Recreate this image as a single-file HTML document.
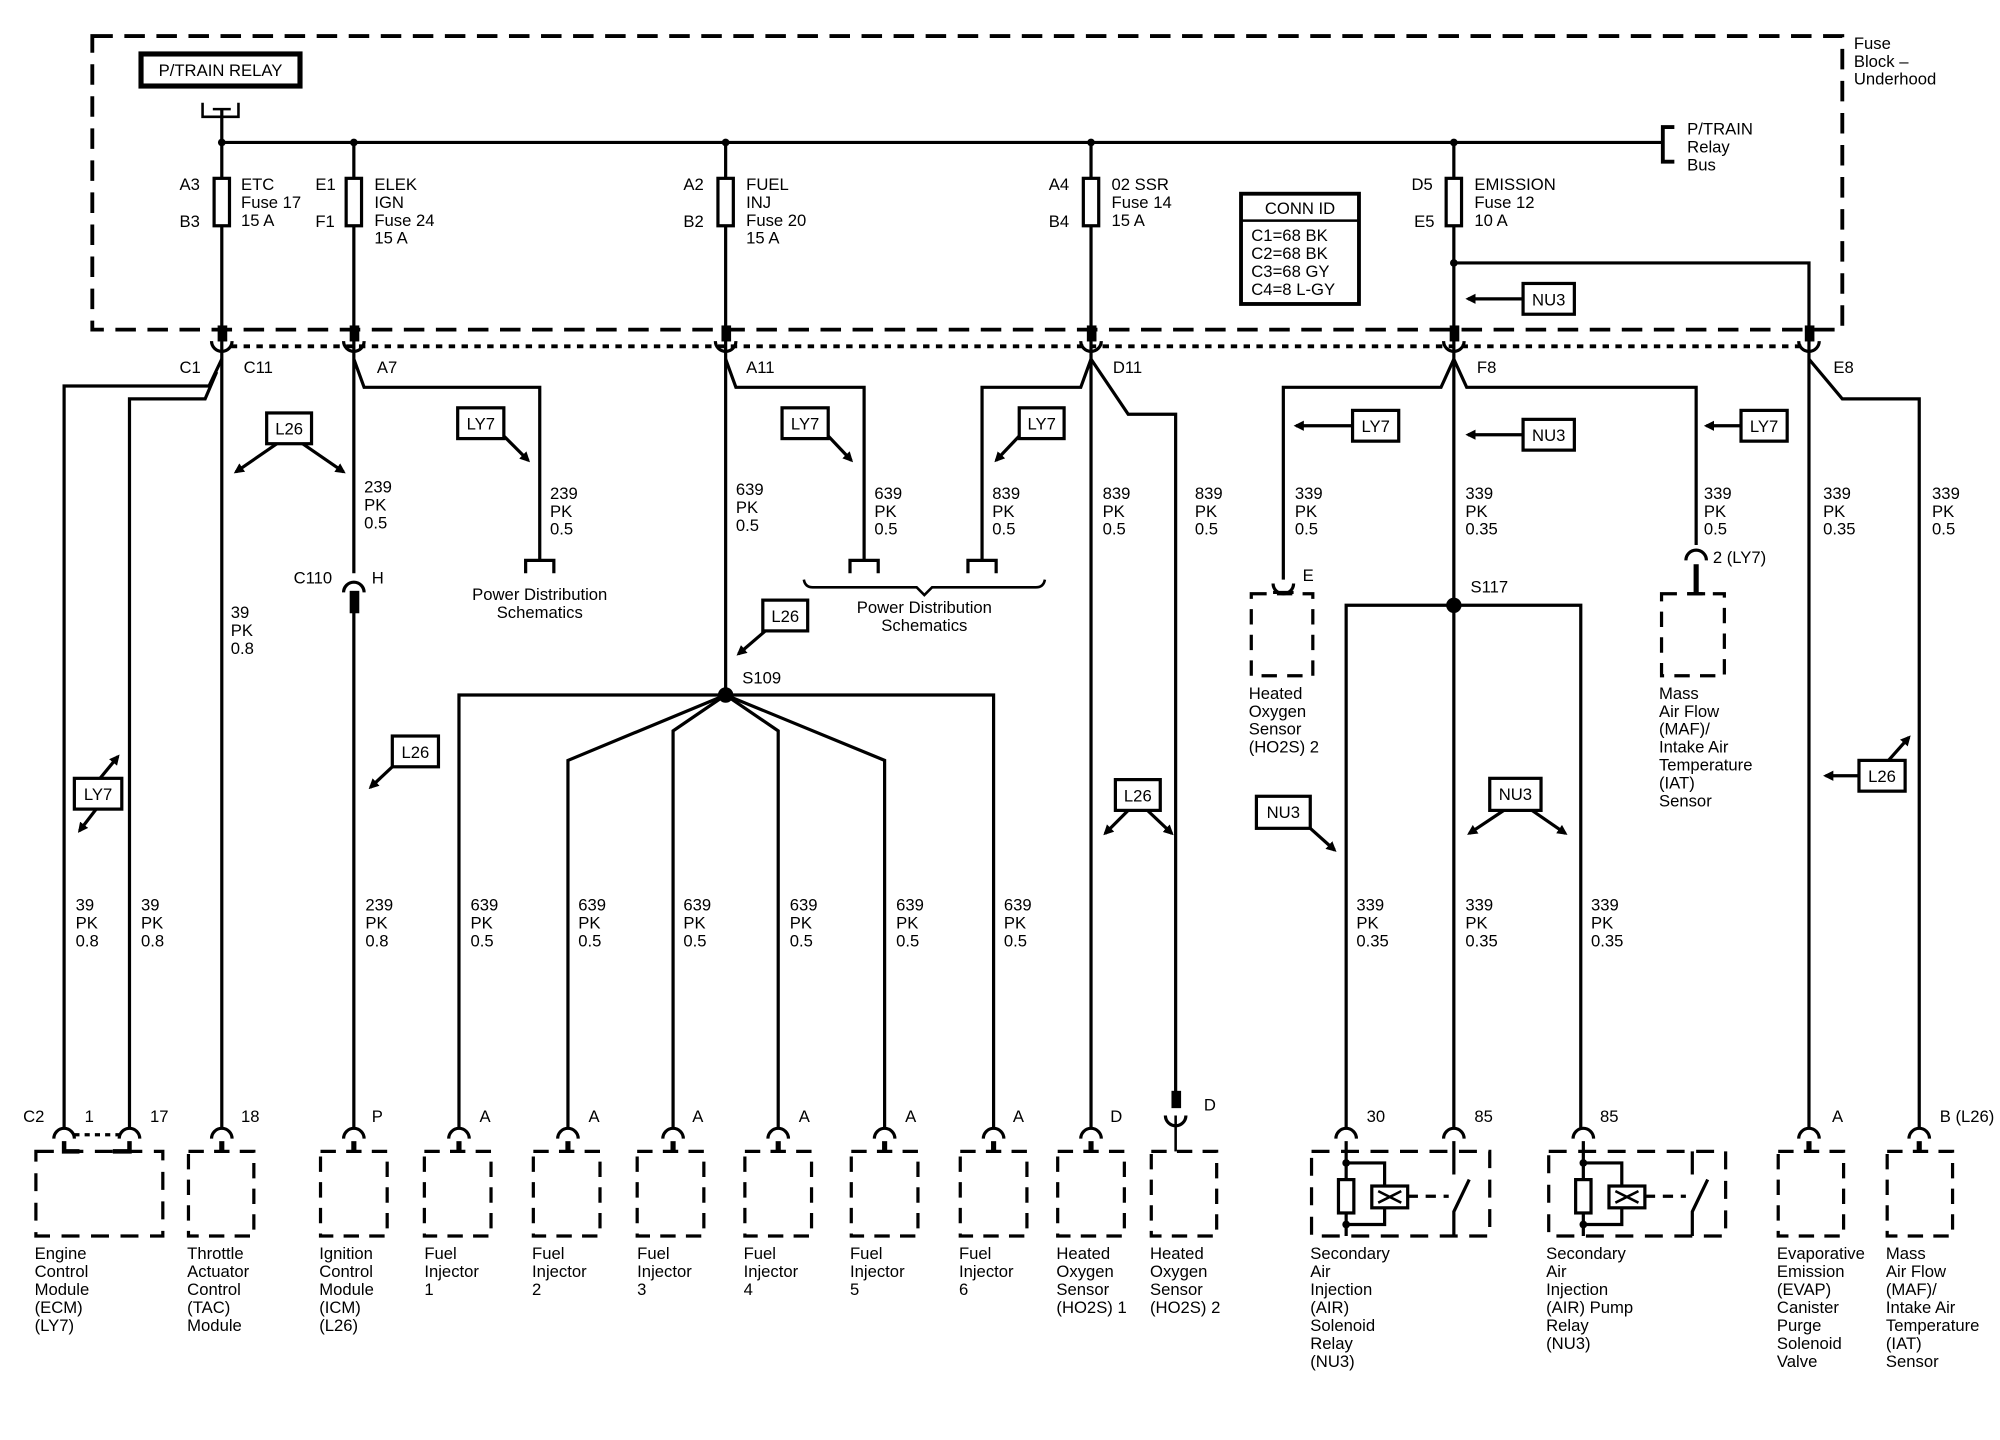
<!DOCTYPE html>
<html><head><meta charset="utf-8"><style>
html,body{margin:0;padding:0;background:#fff;}
svg{display:block}
text{font-family:"Liberation Sans",sans-serif;font-size:13px;fill:#000;}
.t{font-size:13px}
</style></head><body>
<svg width="2000" height="1440" viewBox="0 0 1560 1123" xmlns="http://www.w3.org/2000/svg">
<defs>
<marker id="ah" markerWidth="8" markerHeight="8" refX="6" refY="4" orient="auto" markerUnits="userSpaceOnUse" viewBox="0 0 8 8"><path d="M0,0 L8,4 L0,8 Z" fill="#000"/></marker>
</defs>
<g fill="none" stroke="#000" stroke-width="2.5">
<!-- fuse block dashed -->
<rect x="72" y="28" width="1365" height="229" stroke-width="3" stroke-dasharray="16 9"/>
<!-- dotted connector line -->
<line x1="180" y1="270" x2="1405" y2="270" stroke-width="3" stroke-dasharray="5 5"/>
<!-- relay box -->
<rect x="110" y="42" width="124" height="25" stroke-width="4"/>
<path d="M158 80 V91 H186 V80" stroke-width="2"/>
<line x1="166" y1="85" x2="180" y2="85" stroke-width="2"/>
<line x1="173" y1="85" x2="173" y2="111"/>
<!-- bus -->
<line x1="173" y1="111" x2="1296" y2="111"/>
<path d="M1306 99 H1297 V126 H1306" stroke-width="3"/>
<!-- fuses verticals -->
<line x1="173" y1="111" x2="173" y2="880"/>
<line x1="276" y1="111" x2="276" y2="447"/>
<line x1="566" y1="111" x2="566" y2="542"/>
<line x1="851" y1="111" x2="851" y2="880"/>
<line x1="1134" y1="111" x2="1134" y2="880"/>
<rect x="167" y="139" width="12" height="37" fill="#fff"/>
<rect x="270" y="139" width="12" height="37" fill="#fff"/>
<rect x="560" y="139" width="12" height="37" fill="#fff"/>
<rect x="845" y="139" width="12" height="37" fill="#fff"/>
<rect x="1128" y="139" width="12" height="37" fill="#fff"/>
<!-- emission branch -->
<path d="M1134 205 H1411 V880"/>
<!-- conn id -->
<rect x="968" y="151" width="92" height="86" stroke-width="3"/>
<line x1="968" y1="172" x2="1060" y2="172" stroke-width="2"/>
<!-- C1 branches -->
<path d="M50 880 V301 H163 L173 280"/>
<path d="M101 880 V311 H160 L169 290"/>
<!-- A7 branch -->
<path d="M276 280 L284 302 H421 V437"/>
<path d="M410 447 V437 H432 V447" stroke-width="2.5"/>
<!-- C110 -->
<line x1="276" y1="462" x2="276" y2="880"/>
<rect x="274" y="462" width="5" height="15" fill="#000"/>
<!-- A11 branches -->
<path d="M566 280 L574 302 H674 V437"/>
<path d="M663 447 V437 H685 V447"/>
<path d="M851 280 L843 302 H766 V437"/>
<path d="M755 447 V437 H777 V447"/>
<path d="M627 452 Q628 458 634 458 H715 L721 464 L727 458 H808 Q814 458 815 452" stroke-width="2"/>
<!-- D11 right -->
<path d="M851 280 L880 323 H917 V855"/>
<line x1="917" y1="870" x2="917" y2="898" stroke-width="2"/>
<rect x="915" y="852" width="5" height="11" fill="#000"/>
<!-- F8 -->
<path d="M1134 280 L1124 302 H1001 V452"/>
<path d="M1134 280 L1144 302 H1323 V425"/>
<!-- S117 -->
<path d="M1050 880 V472 H1233 V880"/>
<!-- E8 right -->
<path d="M1411 280 L1437 311 H1497 V880"/>
<!-- S109 -->
<path d="M358 880 V542 H775 V880"/>
<path d="M566 542 L443 593 V880"/>
<path d="M566 542 L525 570 V880"/>
<path d="M566 542 L607 570 V880"/>
<path d="M566 542 L690 593 V880"/>
</g>
<!-- dots -->
<g fill="#000">
<circle cx="173" cy="111" r="3"/><circle cx="276" cy="111" r="3"/><circle cx="566" cy="111" r="3"/><circle cx="851" cy="111" r="3"/><circle cx="1134" cy="111" r="3"/><circle cx="1134" cy="205" r="3"/>
<circle cx="566" cy="542" r="6"/><circle cx="1134" cy="472" r="6"/>
</g>
<!-- top connectors -->
<g fill="none" stroke="#000" stroke-width="2.5">
<rect x="171" y="255" width="5" height="10" fill="#000"/>
<rect x="274" y="255" width="5" height="10" fill="#000"/>
<rect x="564" y="255" width="5" height="10" fill="#000"/>
<rect x="849" y="255" width="5" height="10" fill="#000"/>
<rect x="1132" y="255" width="5" height="10" fill="#000"/>
<rect x="1409" y="255" width="5" height="10" fill="#000"/>
<path d="M165 266 A8 8 0 0 0 181 266"/><path d="M268 266 A8 8 0 0 0 284 266"/><path d="M558 266 A8 8 0 0 0 574 266"/><path d="M843 266 A8 8 0 0 0 859 266"/><path d="M1126 266 A8 8 0 0 0 1142 266"/><path d="M1403 266 A8 8 0 0 0 1419 266"/>
<!-- C110 -->
<path d="M268 462 A8 8 0 0 1 284 462"/>
<!-- E connector HO2S2 upper -->
<path d="M993 455 A8 8 0 0 0 1009 455"/>
<line x1="993" y1="462" x2="1009" y2="462"/>
<!-- MAF upper -->
<path d="M1315 437 A8 8 0 0 1 1331 437"/>
<line x1="1323" y1="440" x2="1323" y2="463" stroke-width="4"/>
<line x1="1316" y1="463" x2="1330" y2="463"/>
<rect x="976" y="463" width="48" height="64" stroke-dasharray="12 8"/>
<rect x="1296" y="463" width="49" height="64" stroke-dasharray="12 8"/>
<!-- D connector (HO2S2 lower) -->
<path d="M909 870 A8 8 0 0 0 925 870"/>
</g>
<!-- bottom connectors & boxes -->
<g fill="none" stroke="#000" stroke-width="2.5">
<g id="bc">
<path d="M42 888 A8 8 0 0 1 58 888"/><path d="M93 888 A8 8 0 0 1 109 888"/>
<line x1="58" y1="885" x2="93" y2="885" stroke-dasharray="4 4"/>
<path d="M50 890 V898 H62 M101 890 V898 H88" stroke-width="3.5"/>
<rect x="28" y="898" width="99" height="66" stroke-dasharray="14 9"/>
</g>
<path d="M165 888 A8 8 0 0 1 181 888"/><line x1="173" y1="890" x2="173" y2="898" stroke-width="4"/><rect x="147" y="898" width="51" height="66" stroke-dasharray="12 8"/>
<path d="M268 888 A8 8 0 0 1 284 888"/><line x1="276" y1="890" x2="276" y2="898" stroke-width="4"/><rect x="250" y="898" width="52" height="66" stroke-dasharray="12 8"/>
<path d="M350 888 A8 8 0 0 1 366 888"/><line x1="358" y1="890" x2="358" y2="898" stroke-width="4"/><rect x="331" y="898" width="52" height="66" stroke-dasharray="12 8"/>
<path d="M435 888 A8 8 0 0 1 451 888"/><line x1="443" y1="890" x2="443" y2="898" stroke-width="4"/><rect x="416" y="898" width="52" height="66" stroke-dasharray="12 8"/>
<path d="M517 888 A8 8 0 0 1 533 888"/><line x1="525" y1="890" x2="525" y2="898" stroke-width="4"/><rect x="497" y="898" width="52" height="66" stroke-dasharray="12 8"/>
<path d="M599 888 A8 8 0 0 1 615 888"/><line x1="607" y1="890" x2="607" y2="898" stroke-width="4"/><rect x="581" y="898" width="52" height="66" stroke-dasharray="12 8"/>
<path d="M682 888 A8 8 0 0 1 698 888"/><line x1="690" y1="890" x2="690" y2="898" stroke-width="4"/><rect x="664" y="898" width="52" height="66" stroke-dasharray="12 8"/>
<path d="M767 888 A8 8 0 0 1 783 888"/><line x1="775" y1="890" x2="775" y2="898" stroke-width="4"/><rect x="749" y="898" width="52" height="66" stroke-dasharray="12 8"/>
<path d="M843 888 A8 8 0 0 1 859 888"/><line x1="851" y1="890" x2="851" y2="898" stroke-width="4"/><rect x="825" y="898" width="52" height="66" stroke-dasharray="12 8"/>
<rect x="898" y="898" width="51" height="66" stroke-dasharray="12 8"/>
<path d="M1042 888 A8 8 0 0 1 1058 888"/><path d="M1126 888 A8 8 0 0 1 1142 888"/><path d="M1227 888 A8 8 0 0 1 1243 888"/>
<path d="M1403 888 A8 8 0 0 1 1419 888"/><line x1="1411" y1="890" x2="1411" y2="898" stroke-width="4"/><rect x="1387" y="898" width="51" height="66" stroke-dasharray="12 8"/>
<path d="M1489 888 A8 8 0 0 1 1505 888"/><line x1="1497" y1="890" x2="1497" y2="898" stroke-width="4"/><rect x="1472" y="898" width="51" height="66" stroke-dasharray="12 8"/>
<!-- relay 1 -->
<rect x="1023" y="898" width="139" height="66" stroke-dasharray="14 9"/>
<path d="M1050 890 V964" /><rect x="1044" y="920" width="12" height="26" fill="#fff"/>
<path d="M1050 907 H1080 V925 M1080 942 V955 H1050"/>
<rect x="1070" y="925" width="28" height="17" fill="#fff"/>
<path d="M1075 929 L1093 938 M1075 938 L1093 929" stroke-width="2"/>
<line x1="1098" y1="933" x2="1130" y2="933" stroke-dasharray="8 6"/>
<path d="M1134 890 V916 M1134 964 V945 L1146 920"/>
<!-- relay 2 -->
<rect x="1208" y="898" width="138" height="66" stroke-dasharray="14 9"/>
<path d="M1235 890 V964" /><rect x="1229" y="920" width="12" height="26" fill="#fff"/>
<path d="M1235 907 H1265 V925 M1265 942 V955 H1235"/>
<rect x="1255" y="925" width="28" height="17" fill="#fff"/>
<path d="M1260 929 L1278 938 M1260 938 L1278 929" stroke-width="2"/>
<line x1="1283" y1="933" x2="1315" y2="933" stroke-dasharray="8 6"/>
<path d="M1320 898 V916 M1320 964 V945 L1332 920"/>
</g>
<g fill="#000"><circle cx="1050" cy="907" r="3"/><circle cx="1050" cy="955" r="3"/><circle cx="1235" cy="907" r="3"/><circle cx="1235" cy="955" r="3"/></g>
<!-- option boxes -->
<g fill="#fff" stroke="#000" stroke-width="2.5">
<rect x="208" y="322" width="35" height="24"/>
<rect x="357" y="318" width="36" height="24"/>
<rect x="610" y="318" width="36" height="24"/>
<rect x="795" y="318" width="35" height="24"/>
<rect x="595" y="468" width="35" height="24"/>
<rect x="306" y="574" width="36" height="24"/>
<rect x="58" y="607" width="37" height="24"/>
<rect x="870" y="608" width="35" height="24"/>
<rect x="1055" y="320" width="36" height="24"/>
<rect x="1188" y="327" width="40" height="24"/>
<rect x="1358" y="320" width="36" height="24"/>
<rect x="1188" y="221" width="40" height="24"/>
<rect x="980" y="621" width="42" height="25"/>
<rect x="1162" y="607" width="40" height="25"/>
<rect x="1450" y="593" width="36" height="24"/>
</g>
<g stroke="#000" stroke-width="2.5" marker-end="url(#ah)" fill="none">
<line x1="216" y1="346" x2="184" y2="368"/><line x1="236" y1="346" x2="268" y2="368"/>
<line x1="393" y1="340" x2="412" y2="359"/>
<line x1="646" y1="340" x2="664" y2="359"/>
<line x1="795" y1="340" x2="777" y2="359"/>
<line x1="597" y1="492" x2="576" y2="510"/>
<line x1="306" y1="598" x2="289" y2="614"/>
<line x1="78" y1="607" x2="92" y2="590"/><line x1="75" y1="631" x2="62" y2="648"/>
<line x1="880" y1="632" x2="862" y2="650"/><line x1="895" y1="632" x2="914" y2="650"/>
<line x1="1055" y1="332" x2="1011" y2="332"/>
<line x1="1188" y1="339" x2="1145" y2="339"/>
<line x1="1358" y1="332" x2="1331" y2="332"/>
<line x1="1188" y1="233" x2="1145" y2="233"/>
<line x1="1022" y1="646" x2="1041" y2="663"/>
<line x1="1173" y1="632" x2="1146" y2="650"/><line x1="1195" y1="632" x2="1221" y2="650"/>
<line x1="1450" y1="605" x2="1424" y2="605"/><line x1="1473" y1="593" x2="1489" y2="575"/>
</g>
<!-- box labels -->
<g text-anchor="middle">
<text x="225.5" y="339">L26</text><text x="375" y="335">LY7</text><text x="628" y="335">LY7</text><text x="812.5" y="335">LY7</text>
<text x="612.5" y="485">L26</text><text x="324" y="591">L26</text><text x="76.5" y="624">LY7</text><text x="887.5" y="625">L26</text>
<text x="1073" y="337">LY7</text><text x="1208" y="344">NU3</text><text x="1376" y="337">LY7</text><text x="1208" y="238">NU3</text>
<text x="1001" y="638">NU3</text><text x="1182" y="624">NU3</text><text x="1468" y="610">L26</text>
<text x="172" y="59" font-size="14">P/TRAIN RELAY</text>
<text x="1014" y="167">CONN ID</text>
<text x="421" y="468">Power Distribution</text><text x="421" y="482">Schematics</text>
<text x="721" y="478">Power Distribution</text><text x="721" y="492">Schematics</text>
</g>
<!-- texts -->
<g>
<text x="1446" y="38">Fuse</text><text x="1446" y="52">Block –</text><text x="1446" y="66">Underhood</text>
<text x="1316" y="105">P/TRAIN</text><text x="1316" y="119">Relay</text><text x="1316" y="133">Bus</text>
<text x="140" y="148">A3</text><text x="140" y="177">B3</text><text x="188" y="148">ETC</text><text x="188" y="162">Fuse 17</text><text x="188" y="176">15 A</text>
<text x="246" y="148">E1</text><text x="246" y="177">F1</text><text x="292" y="148">ELEK</text><text x="292" y="162">IGN</text><text x="292" y="176">Fuse 24</text><text x="292" y="190">15 A</text>
<text x="533" y="148">A2</text><text x="533" y="177">B2</text><text x="582" y="148">FUEL</text><text x="582" y="162">INJ</text><text x="582" y="176">Fuse 20</text><text x="582" y="190">15 A</text>
<text x="818" y="148">A4</text><text x="818" y="177">B4</text><text x="867" y="148">02 SSR</text><text x="867" y="162">Fuse 14</text><text x="867" y="176">15 A</text>
<text x="1101" y="148">D5</text><text x="1103" y="177">E5</text><text x="1150" y="148">EMISSION</text><text x="1150" y="162">Fuse 12</text><text x="1150" y="176">10 A</text>
<text x="976" y="188">C1=68 BK</text><text x="976" y="202">C2=68 BK</text><text x="976" y="216">C3=68 GY</text><text x="976" y="230">C4=8 L-GY</text>
<text x="140" y="291">C1</text><text x="190" y="291">C11</text><text x="294" y="291">A7</text><text x="582" y="291">A11</text><text x="868" y="291">D11</text><text x="1152" y="291">F8</text><text x="1430" y="291">E8</text>
<text x="229" y="455">C110</text><text x="290" y="455">H</text>
<text x="579" y="533">S109</text><text x="1147" y="462">S117</text>
<text x="1016" y="453">E</text><text x="1336" y="439">2 (LY7)</text>
</g>
<!-- wire labels -->
<g>
<text x="180" y="482">39</text><text x="180" y="496">PK</text><text x="180" y="510">0.8</text>
<text x="284" y="384">239</text><text x="284" y="398">PK</text><text x="284" y="412">0.5</text>
<text x="429" y="389">239</text><text x="429" y="403">PK</text><text x="429" y="417">0.5</text>
<text x="574" y="386">639</text><text x="574" y="400">PK</text><text x="574" y="414">0.5</text>
<text x="682" y="389">639</text><text x="682" y="403">PK</text><text x="682" y="417">0.5</text>
<text x="774" y="389">839</text><text x="774" y="403">PK</text><text x="774" y="417">0.5</text>
<text x="860" y="389">839</text><text x="860" y="403">PK</text><text x="860" y="417">0.5</text>
<text x="932" y="389">839</text><text x="932" y="403">PK</text><text x="932" y="417">0.5</text>
<text x="1010" y="389">339</text><text x="1010" y="403">PK</text><text x="1010" y="417">0.5</text>
<text x="1143" y="389">339</text><text x="1143" y="403">PK</text><text x="1143" y="417">0.35</text>
<text x="1329" y="389">339</text><text x="1329" y="403">PK</text><text x="1329" y="417">0.5</text>
<text x="1422" y="389">339</text><text x="1422" y="403">PK</text><text x="1422" y="417">0.35</text>
<text x="1507" y="389">339</text><text x="1507" y="403">PK</text><text x="1507" y="417">0.5</text>
<text x="59" y="710">39</text><text x="59" y="724">PK</text><text x="59" y="738">0.8</text>
<text x="110" y="710">39</text><text x="110" y="724">PK</text><text x="110" y="738">0.8</text>
<text x="285" y="710">239</text><text x="285" y="724">PK</text><text x="285" y="738">0.8</text>
<text x="367" y="710">639</text><text x="367" y="724">PK</text><text x="367" y="738">0.5</text>
<text x="451" y="710">639</text><text x="451" y="724">PK</text><text x="451" y="738">0.5</text>
<text x="533" y="710">639</text><text x="533" y="724">PK</text><text x="533" y="738">0.5</text>
<text x="616" y="710">639</text><text x="616" y="724">PK</text><text x="616" y="738">0.5</text>
<text x="699" y="710">639</text><text x="699" y="724">PK</text><text x="699" y="738">0.5</text>
<text x="783" y="710">639</text><text x="783" y="724">PK</text><text x="783" y="738">0.5</text>
<text x="1058" y="710">339</text><text x="1058" y="724">PK</text><text x="1058" y="738">0.35</text>
<text x="1143" y="710">339</text><text x="1143" y="724">PK</text><text x="1143" y="738">0.35</text>
<text x="1241" y="710">339</text><text x="1241" y="724">PK</text><text x="1241" y="738">0.35</text>
</g>
<!-- pin labels -->
<g>
<text x="18" y="875">C2</text><text x="66" y="875">1</text><text x="117" y="875">17</text><text x="188" y="875">18</text><text x="290" y="875">P</text>
<text x="374" y="875">A</text><text x="459" y="875">A</text><text x="540" y="875">A</text><text x="623" y="875">A</text><text x="706" y="875">A</text><text x="790" y="875">A</text>
<text x="866" y="875">D</text><text x="939" y="866">D</text><text x="1066" y="875">30</text><text x="1150" y="875">85</text><text x="1248" y="875">85</text><text x="1429" y="875">A</text><text x="1513" y="875">B (L26)</text>
</g>
<!-- component labels -->
<g>
<text x="27" y="982">Engine</text><text x="27" y="996">Control</text><text x="27" y="1010">Module</text><text x="27" y="1024">(ECM)</text><text x="27" y="1038">(LY7)</text>
<text x="146" y="982">Throttle</text><text x="146" y="996">Actuator</text><text x="146" y="1010">Control</text><text x="146" y="1024">(TAC)</text><text x="146" y="1038">Module</text>
<text x="249" y="982">Ignition</text><text x="249" y="996">Control</text><text x="249" y="1010">Module</text><text x="249" y="1024">(ICM)</text><text x="249" y="1038">(L26)</text>
<text x="331" y="982">Fuel</text><text x="331" y="996">Injector</text><text x="331" y="1010">1</text>
<text x="415" y="982">Fuel</text><text x="415" y="996">Injector</text><text x="415" y="1010">2</text>
<text x="497" y="982">Fuel</text><text x="497" y="996">Injector</text><text x="497" y="1010">3</text>
<text x="580" y="982">Fuel</text><text x="580" y="996">Injector</text><text x="580" y="1010">4</text>
<text x="663" y="982">Fuel</text><text x="663" y="996">Injector</text><text x="663" y="1010">5</text>
<text x="748" y="982">Fuel</text><text x="748" y="996">Injector</text><text x="748" y="1010">6</text>
<text x="824" y="982">Heated</text><text x="824" y="996">Oxygen</text><text x="824" y="1010">Sensor</text><text x="824" y="1024">(HO2S) 1</text>
<text x="897" y="982">Heated</text><text x="897" y="996">Oxygen</text><text x="897" y="1010">Sensor</text><text x="897" y="1024">(HO2S) 2</text>
<text x="1022" y="982">Secondary</text><text x="1022" y="996">Air</text><text x="1022" y="1010">Injection</text><text x="1022" y="1024">(AIR)</text><text x="1022" y="1038">Solenoid</text><text x="1022" y="1052">Relay</text><text x="1022" y="1066">(NU3)</text>
<text x="1206" y="982">Secondary</text><text x="1206" y="996">Air</text><text x="1206" y="1010">Injection</text><text x="1206" y="1024">(AIR) Pump</text><text x="1206" y="1038">Relay</text><text x="1206" y="1052">(NU3)</text>
<text x="1386" y="982">Evaporative</text><text x="1386" y="996">Emission</text><text x="1386" y="1010">(EVAP)</text><text x="1386" y="1024">Canister</text><text x="1386" y="1038">Purge</text><text x="1386" y="1052">Solenoid</text><text x="1386" y="1066">Valve</text>
<text x="1471" y="982">Mass</text><text x="1471" y="996">Air Flow</text><text x="1471" y="1010">(MAF)/</text><text x="1471" y="1024">Intake Air</text><text x="1471" y="1038">Temperature</text><text x="1471" y="1052">(IAT)</text><text x="1471" y="1066">Sensor</text>
<text x="974" y="545">Heated</text><text x="974" y="559">Oxygen</text><text x="974" y="573">Sensor</text><text x="974" y="587">(HO2S) 2</text>
<text x="1294" y="545">Mass</text><text x="1294" y="559">Air Flow</text><text x="1294" y="573">(MAF)/</text><text x="1294" y="587">Intake Air</text><text x="1294" y="601">Temperature</text><text x="1294" y="615">(IAT)</text><text x="1294" y="629">Sensor</text>
</g>
</svg>
</body></html>
